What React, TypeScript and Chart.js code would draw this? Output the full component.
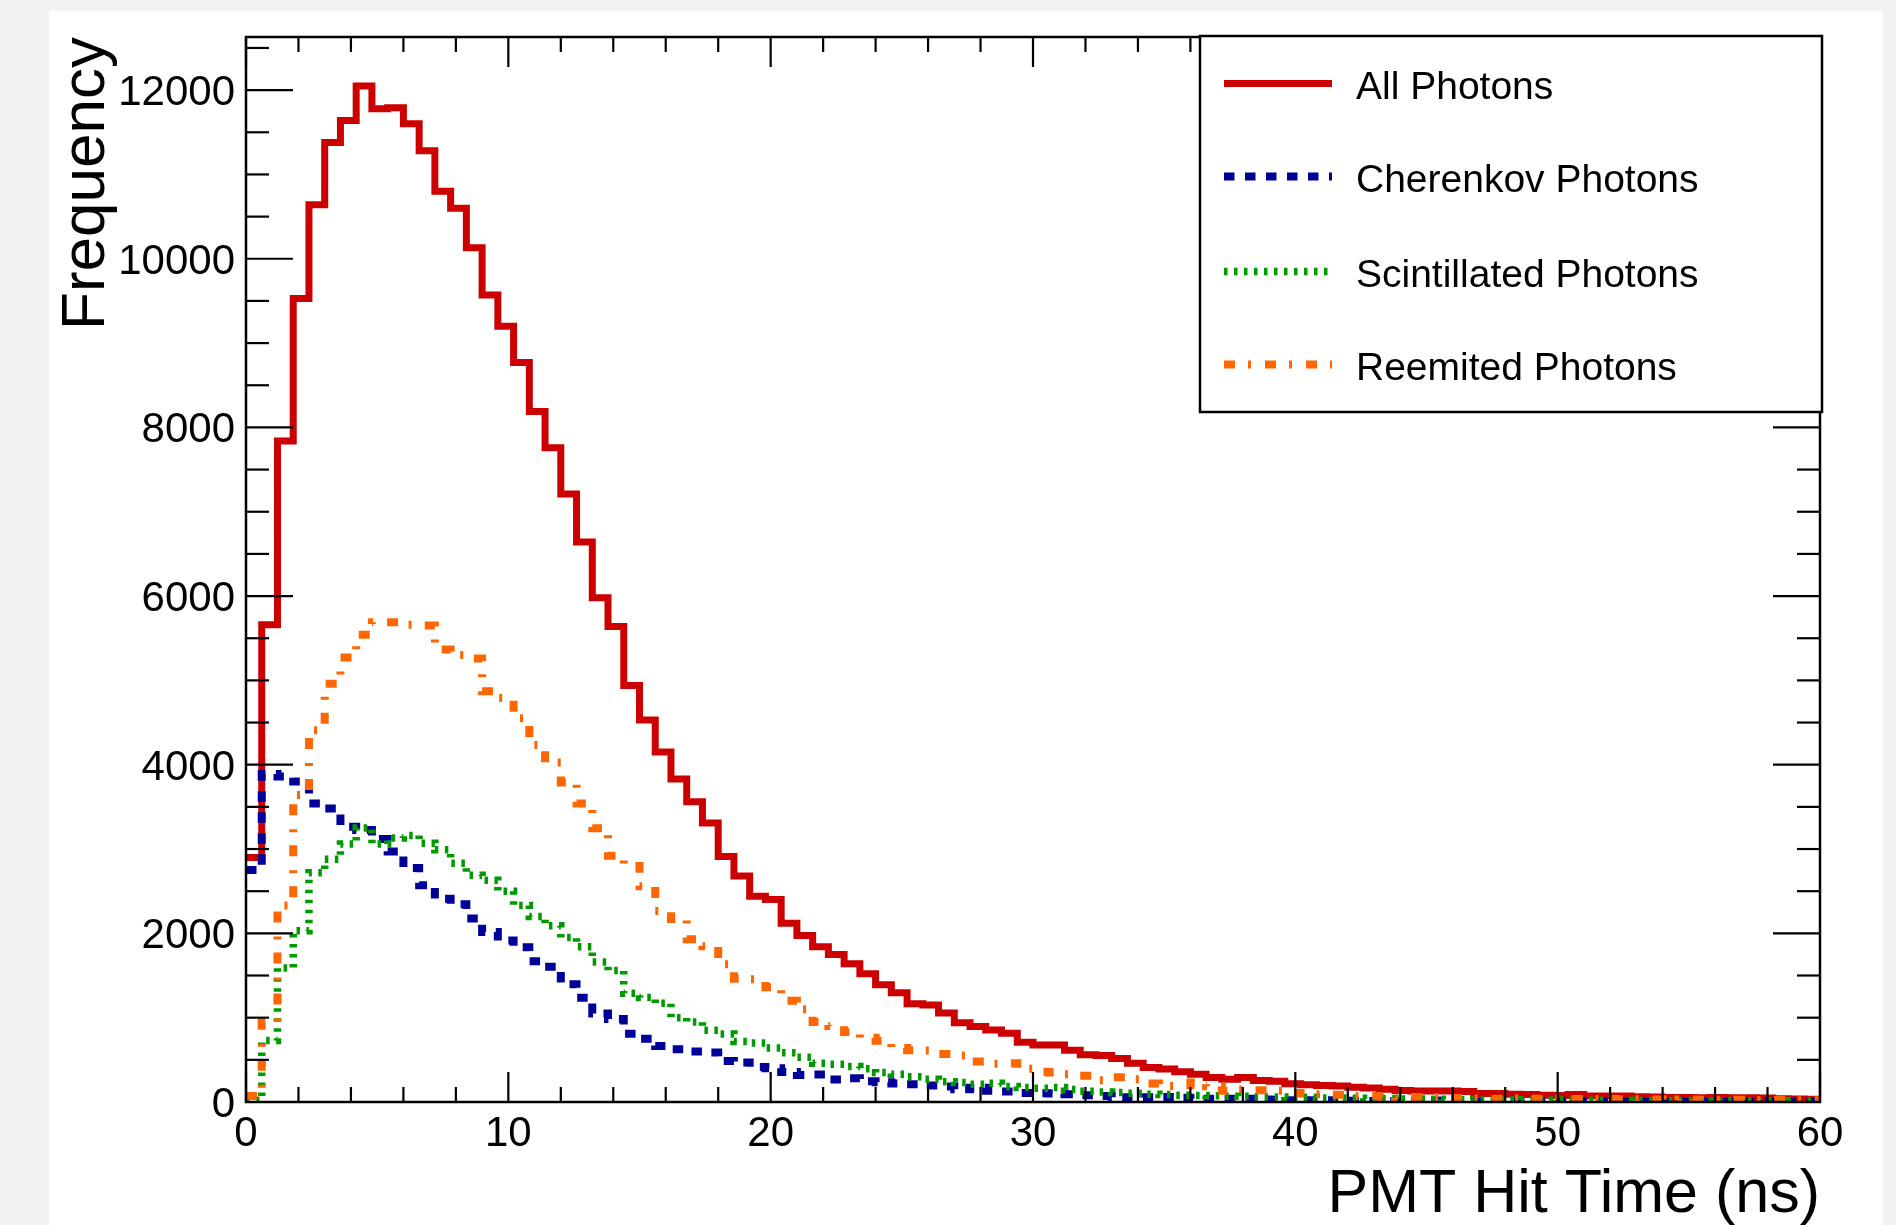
import React, { useEffect, useRef } from "react";
import { Chart, registerables } from "chart.js";

Chart.register(...registerables);

// Histogram binning: 100 bins of 0.6 ns from 0 to 60 ns
const BIN_START = 0;
const BIN_WIDTH = 0.6;
const X_MIN = 0;
const X_MAX = 60;
const Y_MAX = 12630;

const seriesNames = ["All Photons", "Cherenkov Photons", "Scintillated Photons", "Reemited Photons"];

const allPhotons = [
  2900, 5660, 7840, 9530, 10640, 11380, 11640, 12050, 11780, 11790,
  11600, 11280, 10800, 10600, 10130, 9570, 9200, 8770, 8190, 7760,
  7210, 6640, 5980, 5640, 4940, 4530, 4150, 3830, 3560, 3310,
  2910, 2680, 2440, 2400, 2120, 1975, 1840, 1750, 1640, 1520,
  1390, 1295, 1165, 1150, 1055, 940, 895, 855, 815, 710,
  675, 675, 615, 560, 550, 515, 460, 410, 390, 360,
  330, 290, 270, 290, 255, 245, 215, 205, 195, 190,
  175, 165, 150, 135, 130, 130, 130, 125, 100, 100,
  92, 90, 80, 78, 90, 72, 70, 70, 62, 60,
  52, 52, 50, 52, 50, 50, 48, 40, 35, 32,
];

const cherenkovPhotons = [
  2750, 3890, 3860, 3800, 3540, 3480, 3265, 3225, 3120, 2970,
  2775, 2570, 2410, 2345, 2175, 2015, 1915, 1836, 1669, 1605,
  1395, 1237, 1051, 985, 809, 750, 665, 627, 600, 587,
  485, 468, 415, 400, 355, 320, 325, 266, 282, 245,
  235, 220, 211, 195, 185, 152, 168, 132, 124, 108,
  104, 100, 92, 80, 72, 55, 52, 56, 60, 50,
  40, 40, 40, 38, 30, 28, 22, 20, 20, 16,
  15, 12, 10, 8, 8, 18, 12, 10, 8, 10,
  8, 8, 6, 8, 6, 6, 5, 6, 5, 5,
  4, 5, 4, 4, 3, 4, 3, 3, 2, 3,
];

const scintillatedPhotons = [
  20, 730, 1590, 2030, 2720, 2880, 3060, 3250, 3060, 3130,
  3160, 3070, 2990, 2830, 2690, 2630, 2500, 2330, 2200, 2090,
  1950, 1840, 1660, 1560, 1290, 1240, 1170, 1000, 950, 850,
  805, 718, 700, 640, 585, 530, 460, 448, 420, 395,
  350, 330, 300, 270, 240, 231, 211, 223, 185, 171,
  164, 171, 147, 128, 120, 112, 105, 92, 88, 80,
  78, 74, 68, 67, 60, 60, 52, 55, 47, 46,
  44, 40, 42, 36, 37, 33, 32, 28, 30, 27,
  26, 27, 23, 24, 21, 22, 20, 21, 18, 19,
  17, 18, 16, 15, 17, 14, 15, 13, 14, 12,
];

const reemitedPhotons = [
  70, 944, 2330, 3640, 4410, 4960, 5270, 5540, 5690, 5690,
  5660, 5650, 5365, 5300, 5260, 4870, 4790, 4550, 4235, 4025,
  3790, 3540, 3245, 2920, 2800, 2560, 2265, 2170, 1930, 1848,
  1634, 1463, 1455, 1360, 1200, 1100, 950, 900, 830, 762,
  726, 640, 615, 610, 570, 552, 480, 453, 460, 393,
  360, 350, 330, 310, 258, 294, 270, 219, 191, 200,
  231, 187, 132, 147, 140, 132, 108, 100, 92, 85,
  68, 70, 60, 52, 58, 60, 48, 45, 42, 40,
  44, 38, 36, 40, 35, 33, 36, 30, 32, 30,
  28, 30, 27, 26, 28, 25, 24, 25, 22, 20,
];

const xTickLabels = [0, 10, 20, 30, 40, 50, 60];
const yTickLabels = [0, 2000, 4000, 6000, 8000, 10000, 12000];

const xTitle = "PMT Hit Time (ns)";
const yTitle = "Frequency";

const W = 1896;
const H = 1225;
const FONT = '"Liberation Sans", Arial, Helvetica, sans-serif';

// Turn bin contents into step-histogram vertices (low edge of each bin + closing edge)
function toSteps(values: number[]) {
  const pts = values.map((v, i) => ({ x: BIN_START + i * BIN_WIDTH, y: v }));
  pts.push({ x: BIN_START + values.length * BIN_WIDTH, y: values[values.length - 1] });
  return pts;
}

const framePlugin = {
  id: "rootFrame",
  beforeDraw(chart: any) {
    const ctx = chart.ctx;
    ctx.save();
    ctx.fillStyle = "#f2f2f0";
    ctx.fillRect(0, 0, W, H);
    ctx.fillStyle = "#ffffff";
    ctx.fillRect(49, 11, 1834, H - 11);
    ctx.restore();
  },
  afterDatasetsDraw(chart: any) {
    const { ctx, chartArea: a, scales } = chart;
    const xs = scales.x;
    const ys = scales.y;
    const seg = (x1: number, y1: number, x2: number, y2: number) => {
      ctx.beginPath();
      ctx.moveTo(x1, y1);
      ctx.lineTo(x2, y2);
      ctx.stroke();
    };
    ctx.save();
    ctx.strokeStyle = "#000";
    ctx.setLineDash([]);

    // tick marks on all four sides, pointing inward
    ctx.lineWidth = 2.2;
    for (let v = X_MIN; v <= X_MAX + 1e-6; v += 2) {
      const px = xs.getPixelForValue(v);
      const len = Math.round(v) % 10 === 0 ? 30 : 15;
      seg(px, a.bottom, px, a.bottom - len);
      seg(px, a.top, px, a.top + len);
    }
    for (let v = 0; v <= 12500; v += 500) {
      const py = ys.getPixelForValue(v);
      const len = v % 2000 === 0 ? 47 : 23;
      seg(a.left, py, a.left + len, py);
      seg(a.right, py, a.right - len, py);
    }

    // frame
    ctx.lineWidth = 2.5;
    ctx.strokeRect(a.left, a.top, a.right - a.left, a.bottom - a.top);

    // tick labels
    ctx.fillStyle = "#000";
    ctx.font = `42px ${FONT}`;
    ctx.textBaseline = "alphabetic";
    ctx.textAlign = "center";
    xTickLabels.forEach((v) => {
      ctx.fillText(String(v), xs.getPixelForValue(v), 1146);
    });
    ctx.textAlign = "right";
    yTickLabels.forEach((v) => {
      ctx.fillText(String(v), a.left - 11, ys.getPixelForValue(v) + 15);
    });

    // axis titles
    ctx.font = `61px ${FONT}`;
    ctx.textAlign = "right";
    ctx.fillText(xTitle, a.right, 1212);
    ctx.save();
    ctx.translate(104, a.top);
    ctx.rotate(-Math.PI / 2);
    ctx.font = `62px ${FONT}`;
    ctx.textAlign = "right";
    ctx.fillText(yTitle, 0, 0);
    ctx.restore();

    // legend box
    const box = { l: 1200, t: 36, r: 1822, b: 412 };
    ctx.fillStyle = "#ffffff";
    ctx.fillRect(box.l, box.t, box.r - box.l, box.b - box.t);
    ctx.lineWidth = 2.5;
    ctx.strokeStyle = "#000";
    ctx.strokeRect(box.l, box.t, box.r - box.l, box.b - box.t);

    const baselines = [99, 192, 287, 380];
    chart.data.datasets.forEach((ds: any, i: number) => {
      const yb = baselines[i];
      const yl = yb - 15.5;
      ctx.save();
      ctx.strokeStyle = ds.borderColor;
      ctx.lineWidth = ds.borderWidth;
      ctx.lineCap = "butt";
      ctx.setLineDash(ds.borderDash || []);
      seg(1224, yl, 1332, yl);
      ctx.restore();
      ctx.fillStyle = "#000";
      ctx.font = `39px ${FONT}`;
      ctx.textAlign = "left";
      ctx.textBaseline = "alphabetic";
      ctx.fillText(ds.label, 1356, yb);
    });

    ctx.restore();
  },
};

export default function App() {
  const canvasRef = useRef<HTMLCanvasElement>(null);

  useEffect(() => {
    const canvas = canvasRef.current;
    if (!canvas) return;
    const common = {
      pointRadius: 0,
      pointHoverRadius: 0,
      fill: false,
      tension: 0,
      stepped: "before" as const,
      borderCapStyle: "butt" as const,
      borderJoinStyle: "miter" as const,
    };
    const chart = new Chart(canvas, {
      type: "line",
      data: {
        datasets: [
          {
            ...common,
            label: seriesNames[0],
            data: toSteps(allPhotons),
            borderColor: "#cc0000",
            borderWidth: 7,
            order: 3,
          },
          {
            ...common,
            label: seriesNames[1],
            data: toSteps(cherenkovPhotons),
            borderColor: "#000099",
            borderWidth: 8,
            borderDash: [10.5, 10.5],
            order: 2,
          },
          {
            ...common,
            label: seriesNames[2],
            data: toSteps(scintillatedPhotons),
            borderColor: "#009900",
            borderWidth: 7.5,
            borderDash: [3.5, 6.5],
            order: 1,
          },
          {
            ...common,
            label: seriesNames[3],
            data: toSteps(reemitedPhotons),
            borderColor: "#ff6600",
            borderWidth: 8,
            borderDash: [11, 13, 3, 14],
            order: 0,
          },
        ] as any,
      },
      options: {
        animation: false,
        responsive: false,
        devicePixelRatio: 1,
        events: [],
        layout: { padding: { left: 246, top: 37, right: W - 1820, bottom: H - 1102 } },
        plugins: {
          legend: { display: false },
          tooltip: { enabled: false },
          title: { display: false },
        },
        scales: {
          x: { type: "linear", min: X_MIN, max: X_MAX, display: false },
          y: { type: "linear", min: 0, max: Y_MAX, display: false },
        },
      },
      plugins: [framePlugin],
    });
    return () => chart.destroy();
  }, []);

  return (
    <div style={{ position: "fixed", left: 0, top: 0, width: W, height: H, overflow: "hidden" }}>
      <canvas ref={canvasRef} width={W} height={H} style={{ display: "block", width: W, height: H }} />
    </div>
  );
}
